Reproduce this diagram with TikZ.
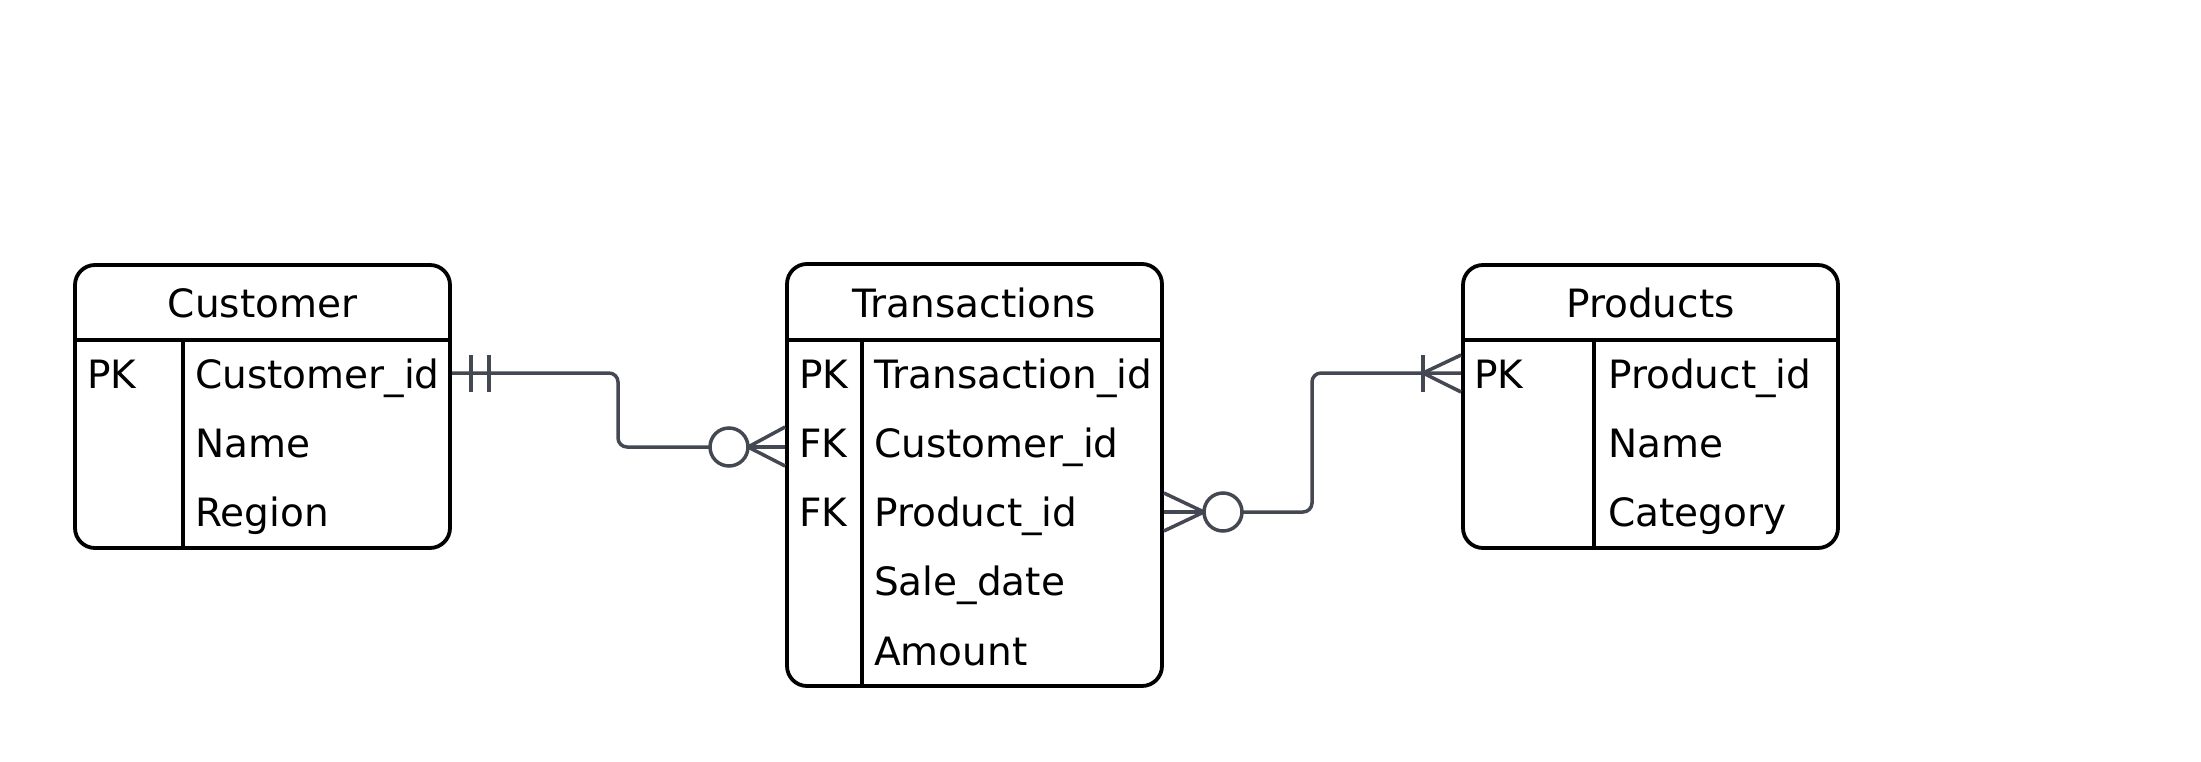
\documentclass[tikz,border=0pt]{standalone}
\usepackage{fontspec}
\setmainfont{DejaVu Sans}
\definecolor{conncol}{HTML}{434852}
\begin{document}
\begin{tikzpicture}[x=1pt,y=-1pt,
  tbl/.style={draw=black, line width=3.8pt, rounded corners=20pt, inner sep=0pt},
  tline/.style={draw=black, line width=3.8pt},
  fld/.style={anchor=base west, inner sep=0pt, font=\fontsize{39}{46}\selectfont},
  ttl/.style={anchor=base, inner sep=0pt, font=\fontsize{39}{46}\selectfont},
  conn/.style={draw=conncol, line width=3.5pt},
  zero/.style={circle, draw=conncol, line width=3.5pt, minimum size=38pt, inner sep=0pt, outer sep=0pt, fill=white}]
\useasboundingbox (0,0) rectangle (2201,762);

% Customer
\node[tbl, minimum width=375pt, minimum height=283pt] (cust) at (262.5,406.5) {};
\draw[tline] (cust.west |- 0,340) -- (cust.east |- 0,340);
\draw[tline] (183,340) -- ({183},0 |- cust.south);
\node[ttl] (ct) at (262.5,317) {Customer};
\node[fld] (cpk) at (87,388) {PK};
\node[fld] (c1) at (195,388) {Customer\_id};
\node[fld] (c2) at (195,457) {Name};
\node[fld] (c3) at (195,526) {Region};

% Transactions
\node[tbl, minimum width=375pt, minimum height=422pt] (trans) at (974.5,475) {};
\draw[tline] (trans.west |- 0,340) -- (trans.east |- 0,340);
\draw[tline] (862,340) -- ({862},0 |- trans.south);
\node[ttl] (tt) at (974.5,317) {Transactions};
\node[fld] (tpk) at (799,388) {PK};
\node[fld] (tfk1) at (799,457) {FK};
\node[fld] (tfk2) at (799,526) {FK};
\node[fld] (t1) at (874,388) {Transaction\_id};
\node[fld] (t2) at (874,457) {Customer\_id};
\node[fld] (t3) at (874,526) {Product\_id};
\node[fld] (t4) at (874,595) {Sale\_date};
\node[fld] (t5) at (874,665) {Amount};

% Products
\node[tbl, minimum width=375pt, minimum height=283pt] (prod) at (1650.5,406.5) {};
\draw[tline] (prod.west |- 0,340) -- (prod.east |- 0,340);
\draw[tline] (1594,340) -- ({1594},0 |- prod.south);
\node[ttl] (pt) at (1650.5,317) {Products};
\node[fld] (ppk) at (1474,388) {PK};
\node[fld] (p1) at (1608,388) {Product\_id};
\node[fld] (p2) at (1608,457) {Name};
\node[fld] (p3) at (1608,526) {Category};

% Connector 1: Customer (one and only one) -- Transactions (zero or many)
\coordinate (a1) at (cust.east |- 0,373);
\coordinate (b1) at (trans.west |- 0,447);
\node[zero] (o1) at (729,447) {};
\draw[conn, rounded corners=9pt] (a1) -- (618,373) -- (618,447) -- (o1.west);
\draw[conn] (471,355) -- (471,392);
\draw[conn] (489,355) -- (489,392);
\draw[conn] (o1.east) -- (trans.west |- 0,427);
\draw[conn] (o1.east) -- (b1);
\draw[conn] (o1.east) -- (trans.west |- 0,466);

% Connector 2: Transactions (zero or many) -- Products (one or many)
\coordinate (a2) at (trans.east |- 0,512);
\coordinate (b2) at (prod.west |- 0,373);
\node[zero] (o2) at (1223,512) {};
\draw[conn] (o2.west) -- (trans.east |- 0,493);
\draw[conn] (o2.west) -- (a2);
\draw[conn] (o2.west) -- (trans.east |- 0,531);
\draw[conn, rounded corners=9pt] (o2.east) -- (1312,512) -- (1312,373) -- (b2);
\coordinate (k2) at (1423,373);
\draw[conn] (k2) -- (prod.west |- 0,355);
\draw[conn] (k2) -- (prod.west |- 0,392);
\draw[conn] (1423,355) -- (1423,392);
\end{tikzpicture}
\end{document}
